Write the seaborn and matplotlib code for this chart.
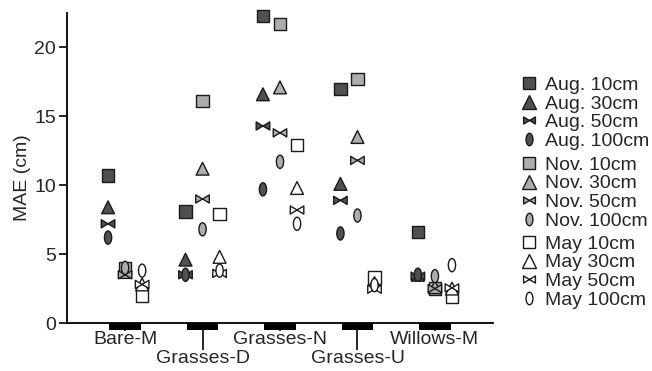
import numpy as np
import pandas as pd
import matplotlib
matplotlib.use("Agg")
import matplotlib.pyplot as plt
import seaborn as sns
from matplotlib.path import Path
from matplotlib.lines import Line2D
from matplotlib.patches import Rectangle
from matplotlib.transforms import blended_transform_factory

# ---------------- data ----------------
categories = ["Bare-M", "Grasses-D", "Grasses-N", "Grasses-U", "Willows-M"]
seasons = ["Aug.", "Nov.", "May"]
depths = ["10cm", "30cm", "50cm", "100cm"]

aug_10 = [10.7, 8.1, 22.3, 17.0, 6.6]
aug_30 = [8.4, 4.6, 16.6, 10.1, 3.5]
aug_50 = [7.2, 3.5, 14.3, 8.9, 3.4]
aug_100 = [6.2, 3.5, 9.7, 6.5, 3.5]

nov_10 = [4.0, 16.1, 21.7, 17.7, 2.5]
nov_30 = [3.7, 11.2, 17.1, 13.5, 2.6]
nov_50 = [3.5, 9.0, 13.8, 11.8, 2.5]
nov_100 = [4.0, 6.8, 11.7, 7.8, 3.4]

may_10 = [2.0, 7.9, 12.9, 3.3, 1.9]
may_30 = [2.8, 4.8, 9.8, 2.9, 2.5]
may_50 = [2.8, 3.6, 8.2, 2.45, 2.55]
may_100 = [3.8, 3.8, 7.2, 2.75, 4.2]

values = {
    ("Aug.", "10cm"): aug_10, ("Aug.", "30cm"): aug_30,
    ("Aug.", "50cm"): aug_50, ("Aug.", "100cm"): aug_100,
    ("Nov.", "10cm"): nov_10, ("Nov.", "30cm"): nov_30,
    ("Nov.", "50cm"): nov_50, ("Nov.", "100cm"): nov_100,
    ("May", "10cm"): may_10, ("May", "30cm"): may_30,
    ("May", "50cm"): may_50, ("May", "100cm"): may_100,
}

# ---------------- styles ----------------
season_colors = {"Aug.": "#505050", "Nov.": "#adadad", "May": "#ffffff"}
season_offset = {"Aug.": -0.22, "Nov.": 0.0, "May": 0.22}
edge = "#1a1a1a"

bowtie = Path(
    [(-1, 0.6), (0, 0), (-1, -0.6), (-1, 0.6),
     (1, 0.6), (0, 0), (1, -0.6), (1, 0.6)],
    [Path.MOVETO, Path.LINETO, Path.LINETO, Path.CLOSEPOLY,
     Path.MOVETO, Path.LINETO, Path.LINETO, Path.CLOSEPOLY])
circ = Path.unit_circle()
ellipse = Path(circ.vertices * np.array([0.55, 1.0]), circ.codes)

depth_marker = {"10cm": "s", "30cm": "^", "50cm": bowtie, "100cm": ellipse}
depth_size = {"10cm": 80, "30cm": 85, "50cm": 95, "100cm": 90}

rows = []
for (s, d), vals in values.items():
    for i, (c, v) in enumerate(zip(categories, vals)):
        rows.append({"category": c, "season": s, "depth": d,
                     "x": i + season_offset[s], "mae": v})
df = pd.DataFrame(rows)

# ---------------- plot ----------------
sns.set_style("ticks")
plt.rcParams["font.family"] = ["Liberation Sans", "DejaVu Sans"]

fig = plt.figure(figsize=(6.52, 3.71), dpi=100)
ax = fig.add_axes([67 / 652, 48 / 371, 426 / 652, 310 / 371])

for d in depths:
    sub = df[df["depth"] == d]
    sns.scatterplot(data=sub, x="x", y="mae", hue="season",
                    hue_order=seasons, palette=season_colors,
                    marker=depth_marker[d], s=depth_size[d],
                    edgecolor=edge, linewidth=1.0, legend=False,
                    ax=ax, clip_on=False, zorder=3)

ax.set_xlim(-0.75, 4.75)
ax.set_ylim(0, 22.5)
ax.set_yticks([0, 5, 10, 15, 20])
ax.set_xlabel("")
ax.set_ylabel("MAE (cm)", fontsize=14)
ax.yaxis.set_label_coords(-0.085, 0.47)

ax.set_xticks([0, 2, 4])
ax.set_xticklabels([categories[0], categories[2], categories[4]])
ax.set_xticks([1, 3], minor=True)
ax.set_xticklabels([categories[1], categories[3]], minor=True)
ax.tick_params(axis="x", which="major", length=6, width=1.2, pad=0,
               labelsize=14, color="black")
ax.tick_params(axis="x", which="minor", length=19.5, width=1.2, pad=0,
               labelsize=14, color="black")
ax.tick_params(axis="y", length=6, width=1.2, pad=2, labelsize=14,
               color="black")

sns.despine(ax=ax)
for sp in ["left", "bottom"]:
    ax.spines[sp].set_linewidth(1.3)
    ax.spines[sp].set_color("black")

# black bars under each category
trans = blended_transform_factory(ax.transData, ax.transAxes)
for i in range(len(categories)):
    ax.add_patch(Rectangle((i - 0.205, -0.021), 0.41, 0.021,
                           transform=trans, facecolor="black",
                           edgecolor="none", clip_on=False, zorder=4))

# legends
def handle(s, d):
    ms = {"10cm": 9, "30cm": 9.5, "50cm": 8.5, "100cm": 9}[d]
    return Line2D([], [], linestyle="none", marker=depth_marker[d],
                  markersize=ms, markerfacecolor=season_colors[s],
                  markeredgecolor=edge, markeredgewidth=1.0)

anchors = {"Aug.": 0.794, "Nov.": 0.579, "May": 0.366}
for s in seasons:
    hs = [handle(s, d) for d in depths]
    labels = [f"{s} {d}" for d in depths]
    fig.legend(hs, labels, loc="upper left",
               bbox_to_anchor=(519 / 652, anchors[s]),
               frameon=False, fontsize=14, borderpad=0, borderaxespad=0,
               handlelength=1.0, handletextpad=0.33, labelspacing=0.05)

fig.savefig("out.png", dpi=100)
